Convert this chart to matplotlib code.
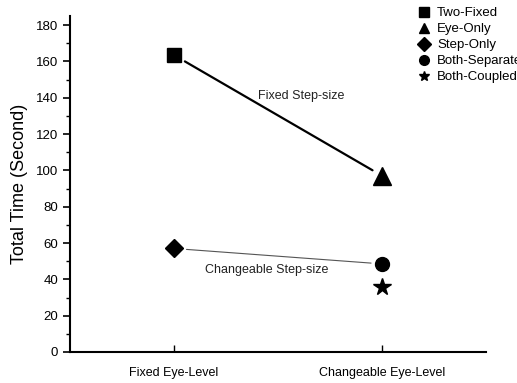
import matplotlib.pyplot as plt
from matplotlib.ticker import MultipleLocator
from matplotlib.lines import Line2D

plt.rcParams['font.family'] = ['Liberation Sans', 'DejaVu Sans']

# data
categories = ['Fixed Eye-Level', 'Changeable Eye-Level']
series_names = ['Two-Fixed', 'Eye-Only', 'Step-Only', 'Both-Separate', 'Both-Coupled']
series_x = [1, 2, 1, 2, 2]
series_y = [163.5, 97, 57, 48.5, 36]
markers = ['s', '^', 'D', 'o', '*']
sizes = [10, 13, 9, 10, 13]

fixed_pair = (0, 1)       # Two-Fixed -> Eye-Only
change_pair = (2, 3)      # Step-Only -> Both-Separate

fig = plt.figure(figsize=(5.17, 3.83), dpi=100)
ax = fig.add_axes([0.1354, 0.081, 0.805, 0.877])

for x, y, m, s in zip(series_x, series_y, markers, sizes):
    ax.plot(x, y, marker=m, markersize=s, color='black', linestyle='none', clip_on=False)

# connecting lines, with a small gap at the markers
a, b = fixed_pair
ax.annotate('', xy=(series_x[b], series_y[b]), xytext=(series_x[a], series_y[a]),
            arrowprops=dict(arrowstyle='-', color='black', lw=1.6, shrinkA=9, shrinkB=8))
a, b = change_pair
ax.annotate('', xy=(series_x[b], series_y[b]), xytext=(series_x[a], series_y[a]),
            arrowprops=dict(arrowstyle='-', color='#555555', lw=0.8, shrinkA=9, shrinkB=8))

ax.text(1.61, 141, 'Fixed Step-size', ha='center', va='center', fontsize=9, color='#222222')
ax.text(1.445, 45.2, 'Changeable Step-size', ha='center', va='center', fontsize=9, color='#222222')

ax.set_xlim(0.5, 2.5)
ax.set_ylim(0, 185)
ax.set_xticks([1, 2])
ax.set_xticklabels(categories, fontsize=9)
ax.yaxis.set_major_locator(MultipleLocator(20))
ax.yaxis.set_minor_locator(MultipleLocator(10))
ax.tick_params(axis='y', which='major', direction='out', length=5, width=1.2, labelsize=9.5)
ax.tick_params(axis='y', which='minor', direction='out', length=3, width=1)
ax.tick_params(axis='x', direction='in', length=5, width=1, pad=11)
ax.set_ylabel('Total Time (Second)', fontsize=13, labelpad=6)

for side in ['top', 'right']:
    ax.spines[side].set_visible(False)
for side in ['left', 'bottom']:
    ax.spines[side].set_linewidth(1.5)

handles = [Line2D([], [], marker=m, color='black', linestyle='none', markersize=7)
           for m in markers]
fig.legend(handles, series_names, loc='upper left', bbox_to_anchor=(0.797, 0.995),
           frameon=False, fontsize=9.5, handletextpad=0.5, labelspacing=0.28,
           handlelength=1.0, borderaxespad=0)

fig.savefig('out.png', dpi=100)
